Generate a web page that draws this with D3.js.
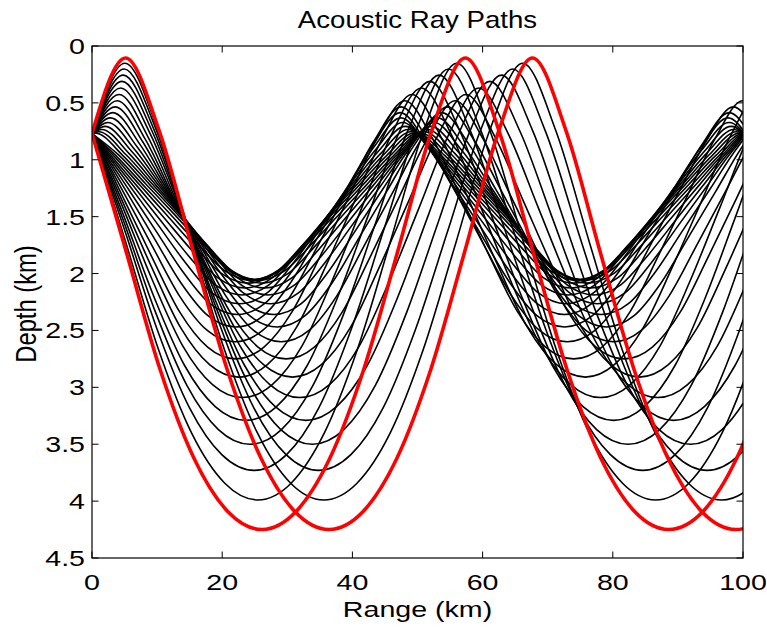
<!DOCTYPE html>
<html lang="en">
<head>
  <meta charset="UTF-8">
  <title>Acoustic Ray Paths</title>
  <script src="https://d3js.org/d3.v7.min.js"></script>
</head>
<body style="margin: 0; overflow: hidden; background: #fff;">

<script>
  // Ray family, one entry per launch-angle step k = 0..16.
  // Each k is launched once upward and once downward; k = 16 is the red pair.
  // Depths and ranges in km.
  const sourceDepth = 0.77;
  const upperTurn = [0.77, 0.766, 0.754, 0.734, 0.706, 0.672, 0.632, 0.586, 0.535, 0.481, 0.426, 0.369, 0.311, 0.256, 0.202, 0.151, 0.105];
  const lowerTurn = [2.05, 2.059, 2.084, 2.127, 2.188, 2.265, 2.36, 2.47, 2.60, 2.75, 2.91, 3.09, 3.29, 3.50, 3.73, 3.99, 4.25];
  // range from the source to the first shallow turn of the upward ray
  const firstPeak = [0, 0.54, 1.03, 1.51, 1.98, 2.41, 2.82, 3.2, 3.56, 3.87, 4.15, 4.4, 4.61, 4.79, 4.94, 5.06, 5.15];
  // range from a shallow turn to the next deep turn
  const halfCycle = [25.0, 25.0, 25.01, 25.02, 25.04, 25.07, 25.13, 25.27, 25.52, 25.96, 26.65, 27.5, 28.25, 29.05, 29.85, 30.55, 31.25];
  // depth at 1/6 .. 5/6 of the way from a shallow turn to the deep turn
  const legDepths = [
    [0.962, 1.217, 1.471, 1.725, 1.962],
    [0.961, 1.218, 1.475, 1.733, 1.971],
    [0.954, 1.220, 1.486, 1.752, 1.996],
    [0.944, 1.225, 1.505, 1.786, 2.038],
    [0.929, 1.231, 1.534, 1.836, 2.097],
    [0.912, 1.241, 1.570, 1.900, 2.173],
    [0.892, 1.255, 1.618, 1.982, 2.265],
    [0.869, 1.273, 1.677, 2.081, 2.373],
    [0.844, 1.298, 1.752, 2.198, 2.500],
    [0.821, 1.332, 1.844, 2.334, 2.646],
    [0.798, 1.372, 1.946, 2.476, 2.801],
    [0.777, 1.423, 2.068, 2.635, 2.976],
    [0.760, 1.482, 2.204, 2.808, 3.169],
    [0.750, 1.544, 2.337, 2.983, 3.371],
    [0.744, 1.617, 2.487, 3.178, 3.592],
    [0.745, 1.713, 2.668, 3.403, 3.843],
    [0.752, 1.811, 2.846, 3.626, 4.094]
  ];

  const xTicks = [0, 20, 40, 60, 80, 100];
  const yTicks = [0, 0.5, 1, 1.5, 2, 2.5, 3, 3.5, 4, 4.5];

  const width = 767, height = 630;
  const margin = {top: 46, right: 24, bottom: 72, left: 92};
  const stretch = 1.3; // the reference text is wider than it is tall
  const font = '"Liberation Sans", Arial, Helvetica, sans-serif';

  const svg = d3.select('body').append('svg')
    .attr('width', width)
    .attr('height', height);

  const x = d3.scaleLinear().domain([0, 100]).range([margin.left, width - margin.right]);
  const y = d3.scaleLinear().domain([0, 4.5]).range([margin.top, height - margin.bottom]);

  //Points of one ray whose shallow turn sits at range x0, starting at the source
  function rayPoints(k, x0) {
    const h = halfCycle[k], step = h / 6, leg = legDepths[k];
    const pts = [[0, sourceDepth]];
    for (let s = x0 - 2 * h; s < 150; s += 2 * h) {
      for (let i = 0; i < 12; i++) {
        let depth;
        if (i === 0) depth = upperTurn[k];
        else if (i < 6) depth = leg[i - 1];
        else if (i === 6) depth = lowerTurn[k];
        else depth = leg[11 - i];
        const r = s + i * step;
        if (r > 0.45) pts.push([r, depth]);
      }
    }
    return pts;
  }

  const rays = [];
  for (let k = 0; k < upperTurn.length; k++) {
    const p = firstPeak[k];
    rays.push({k: k, pts: rayPoints(k, p)});             // launched upward
    if (p > 0) rays.push({k: k, pts: rayPoints(k, -p)}); // launched downward
  }

  svg.append('clipPath').attr('id', 'plot')
    .append('rect')
    .attr('x', margin.left).attr('y', margin.top)
    .attr('width', x(100) - margin.left).attr('height', y(4.5) - margin.top);

  const line = d3.line()
    .x(q => x(q[0]))
    .y(q => y(q[1]))
    .curve(d3.curveMonotoneX);

  const last = upperTurn.length - 1;
  const g = svg.append('g').attr('clip-path', 'url(#plot)');

  g.selectAll('path.black')
    .data(rays.filter(r => r.k !== last))
    .join('path')
    .attr('class', 'black')
    .attr('d', r => line(r.pts))
    .attr('fill', 'none')
    .attr('stroke', '#000')
    .attr('stroke-width', 1.6)
    .attr('stroke-linejoin', 'round');

  g.selectAll('path.red')
    .data(rays.filter(r => r.k === last))
    .join('path')
    .attr('class', 'red')
    .attr('d', r => line(r.pts))
    .attr('fill', 'none')
    .attr('stroke', '#ff0000')
    .attr('stroke-width', 3.6)
    .attr('stroke-linejoin', 'round');

  //Box with inward ticks on all four sides
  const tick = 6.5;
  svg.append('rect')
    .attr('x', x(0)).attr('y', y(0))
    .attr('width', x(100) - x(0)).attr('height', y(4.5) - y(0))
    .attr('fill', 'none').attr('stroke', '#000').attr('stroke-width', 1.2);

  const xt = svg.append('g').selectAll('g').data(xTicks).join('g');
  xt.append('line').attr('x1', d => x(d)).attr('x2', d => x(d))
    .attr('y1', y(4.5)).attr('y2', y(4.5) - tick);
  xt.append('line').attr('x1', d => x(d)).attr('x2', d => x(d))
    .attr('y1', y(0)).attr('y2', y(0) + tick);
  xt.selectAll('line').attr('stroke', '#000').attr('stroke-width', 1);

  const yt = svg.append('g').selectAll('g').data(yTicks).join('g');
  yt.append('line').attr('x1', x(0)).attr('x2', x(0) + tick)
    .attr('y1', d => y(d)).attr('y2', d => y(d));
  yt.append('line').attr('x1', x(100)).attr('x2', x(100) - tick)
    .attr('y1', d => y(d)).attr('y2', d => y(d));
  yt.selectAll('line').attr('stroke', '#000').attr('stroke-width', 1);

  //Tick labels
  svg.append('g').selectAll('text')
    .data(xTicks)
    .join('text')
    .attr('transform', d => `translate(${x(d)},${y(4.5) + 32}) scale(${stretch},1)`)
    .attr('text-anchor', 'middle')
    .style('font-family', font).style('font-size', '22px')
    .text(d => d);

  svg.append('g').selectAll('text')
    .data(yTicks)
    .join('text')
    .attr('transform', d => `translate(${x(0) - 7},${y(d) + 8}) scale(${stretch},1)`)
    .attr('text-anchor', 'end')
    .style('font-family', font).style('font-size', '22px')
    .text(d => d);

  //Title and axis labels
  svg.append('text')
    .attr('transform', `translate(${(x(0) + x(100)) / 2},${28}) scale(1.15,1)`)
    .attr('text-anchor', 'middle')
    .style('font-family', font).style('font-size', '24px')
    .text('Acoustic Ray Paths');

  svg.append('text')
    .attr('transform', `translate(${(x(0) + x(100)) / 2},${617}) scale(${stretch},1)`)
    .attr('text-anchor', 'middle')
    .style('font-family', font).style('font-size', '22px')
    .text('Range (km)');

  svg.append('text')
    .attr('transform', `translate(${36},${(y(0) + y(4.5)) / 2 + 2}) rotate(-90) scale(1.08,${stretch})`)
    .attr('text-anchor', 'middle')
    .style('font-family', font).style('font-size', '22px')
    .text('Depth (km)');
</script>

</body>
</html>
